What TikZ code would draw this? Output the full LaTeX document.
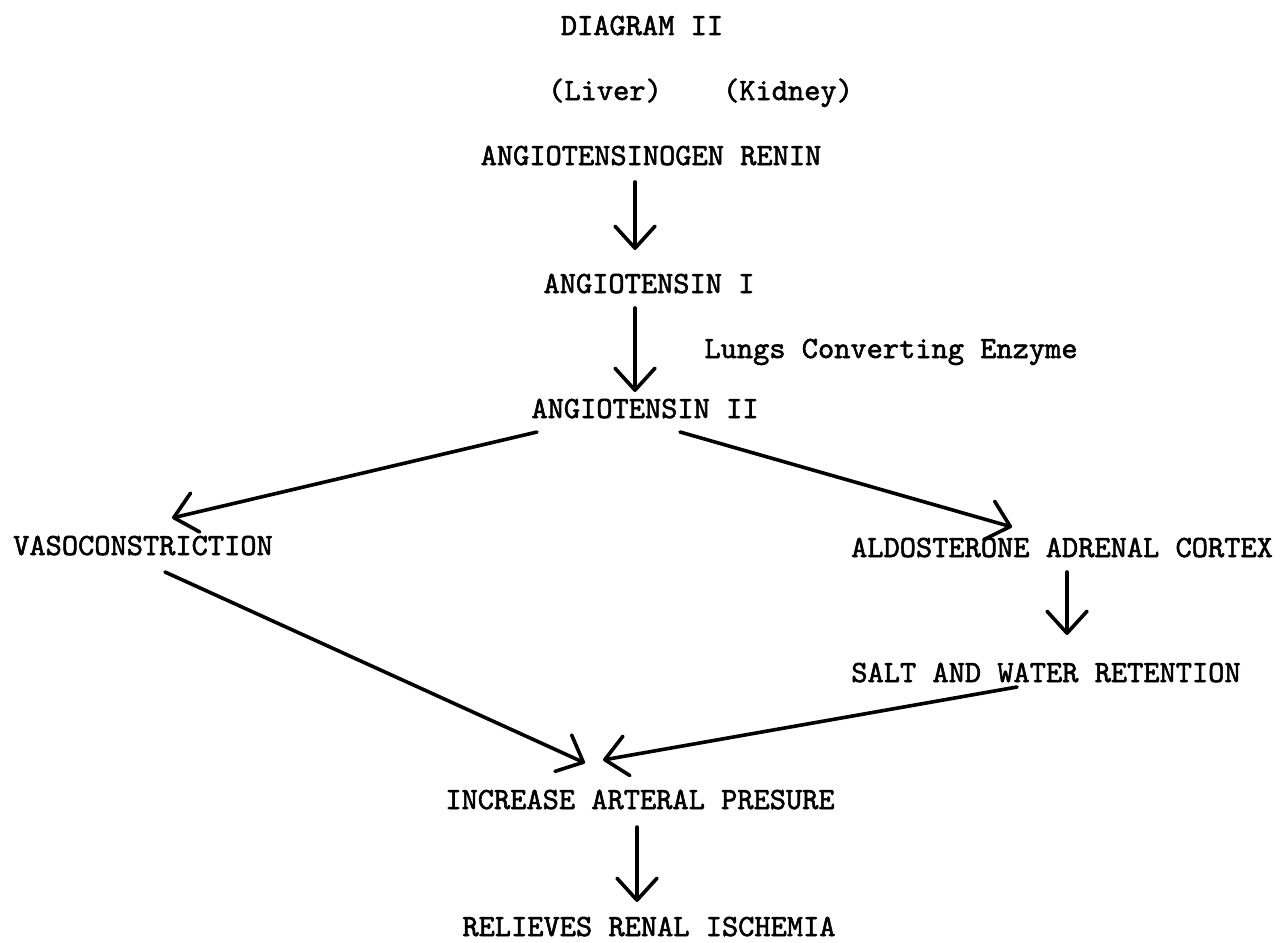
\documentclass[tikz,border=0pt]{standalone}
\usepackage{fontspec}
\usetikzlibrary{arrows.meta,calc}

% heavy typewriter face for all labels
\newfontfamily\twfont{lmmono10-regular.otf}[FakeBold=1.8]

\tikzset{
  lbl/.style={inner sep=0pt, anchor=base,
    font=\fontsize{30.9}{37}\selectfont\twfont},
  arr/.style={line width=3.6pt, line cap=round,
    -{Straight Barb[length=22pt,width=40pt,line width=3.6pt,line cap=round,line join=round]}}
}

\begin{document}
\begin{tikzpicture}[x=1pt,y=-1pt]
  \fill[white] (0,0) rectangle (1281,942);
  \useasboundingbox (0,0) rectangle (1281,942);

  % labels
  \node[lbl] (title)   at (642,35)  {DIAGRAM II};
  \node[lbl] (liver)   at (605,100) {(Liver)};
  \node[lbl] (kidney)  at (788,100) {(Kidney)};
  \node[lbl] (angen)   at (651,165) {ANGIOTENSINOGEN RENIN};
  \node[lbl] (ang1)    at (649,293) {ANGIOTENSIN I};
  \node[lbl] (lungs)   at (891,358) {Lungs Converting Enzyme};
  \node[lbl] (ang2)    at (645,418) {ANGIOTENSIN II};
  \node[lbl] (vaso)    at (143,555) {VASOCONSTRICTION};
  \node[lbl] (aldo)    at (1062,557) {ALDOSTERONE ADRENAL CORTEX};
  \node[lbl] (salt)    at (1046,682) {SALT AND WATER RETENTION};
  \node[lbl] (incr)    at (640,809) {INCREASE ARTERAL PRESURE};
  \node[lbl] (relieve) at (649,936) {RELIEVES RENAL ISCHEMIA};

  % connectors
  \draw[arr] ($(angen.base)+(-16,17)$) -- ($(ang1.base)+(-14,-43)$);
  \draw[arr] ($(ang1.base)+(-14,15)$) -- ($(ang2.base)+(-10,-26)$);
  \draw[arr] ($(ang2.base)+(-108,14)$) -- ($(vaso.base)+(29,-37)$);
  \draw[arr] ($(ang2.base)+(35,14)$) -- ($(aldo.base)+(-50,-30)$);
  \draw[arr] ($(aldo.base)+(5,15)$) -- ($(salt.base)+(21,-47)$);
  \draw[arr] ($(vaso.base)+(22,17)$) -- ($(incr.base)+(-55,-46)$);
  \draw[arr] ($(salt.base)+(-29,5)$) -- ($(incr.base)+(-37,-49)$);
  \draw[arr] ($(incr.base)+(-3,18)$) -- ($(relieve.base)+(-12,-34)$);
\end{tikzpicture}
\end{document}
